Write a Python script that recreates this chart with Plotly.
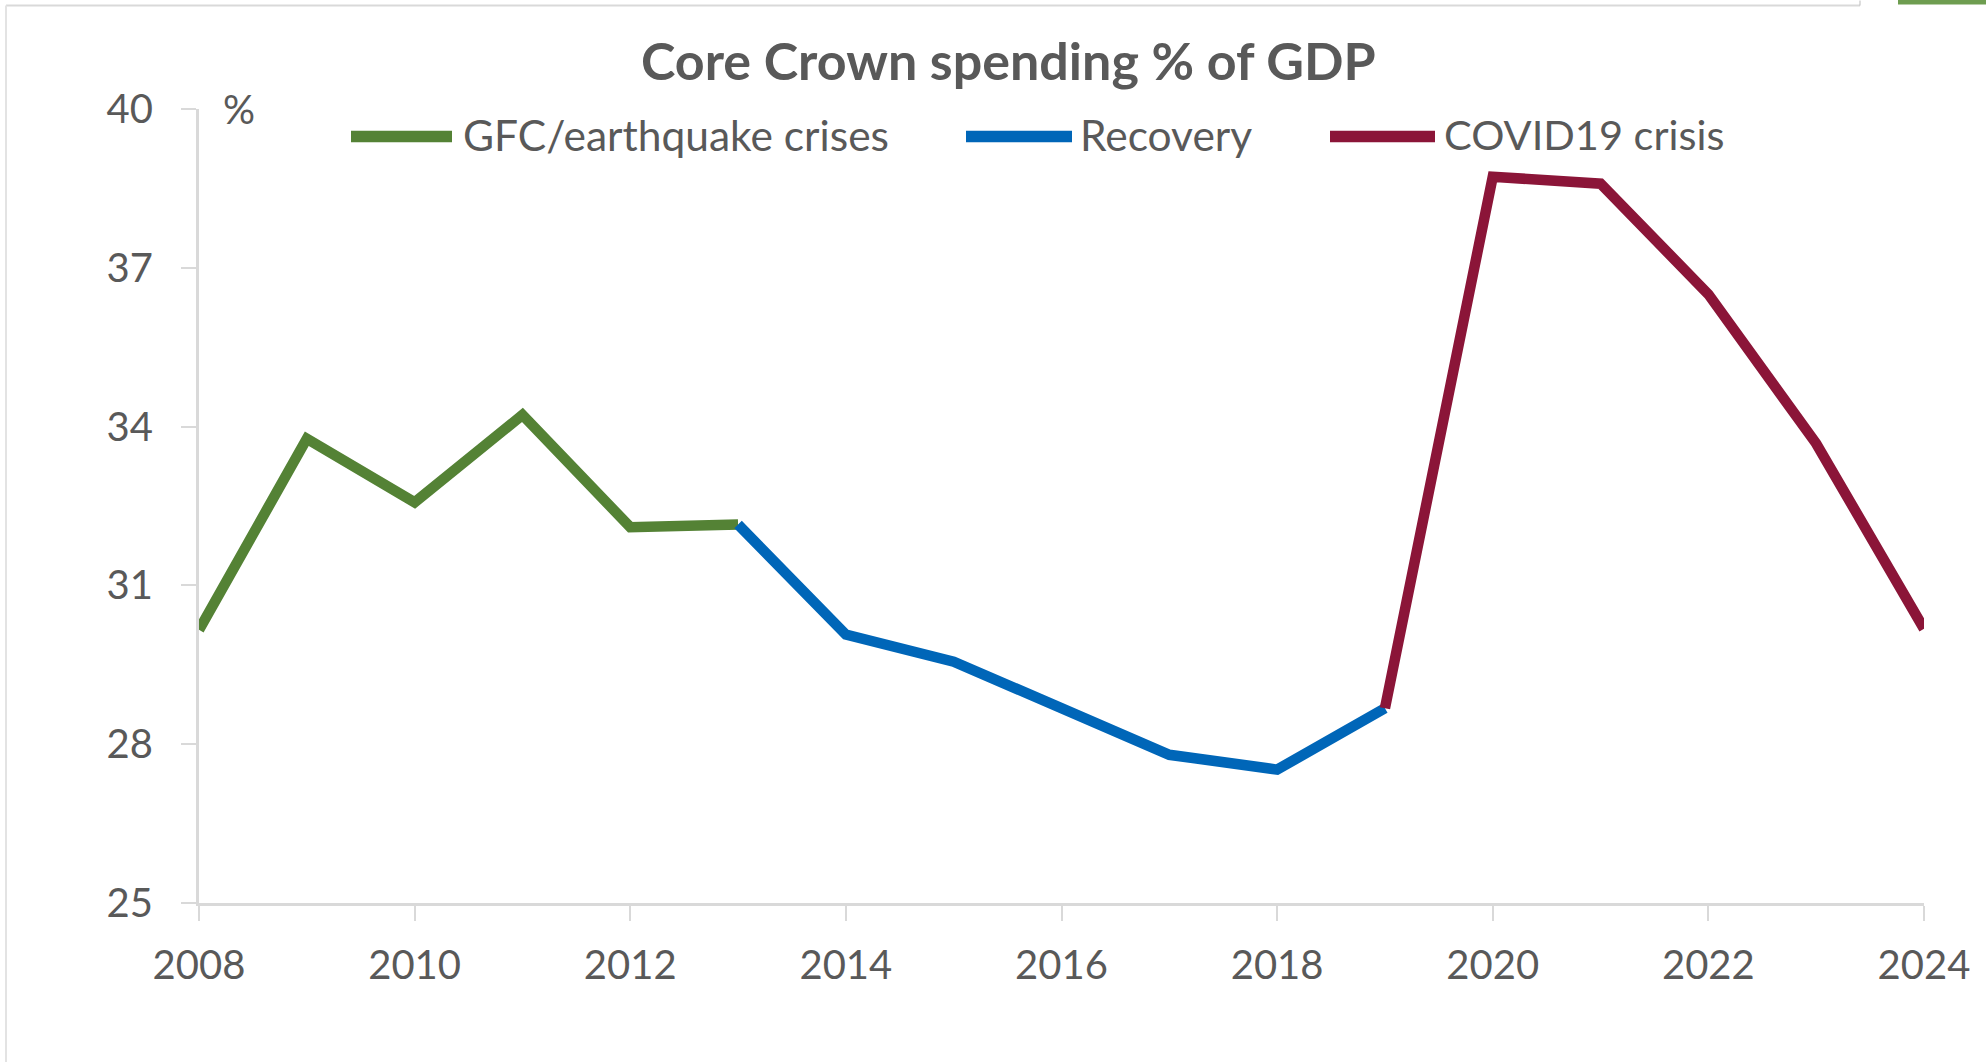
import plotly.graph_objects as go

# ---------------- data ----------------
years_gfc = [2008, 2009, 2010, 2011, 2012, 2013]
vals_gfc = [30.16, 33.77, 32.57, 34.22, 32.10, 32.15]

years_rec = [2013, 2014, 2015, 2016, 2017, 2018, 2019]
vals_rec = [32.15, 30.07, 29.56, 28.68, 27.80, 27.52, 28.68]

years_cov = [2019, 2020, 2021, 2022, 2023, 2024]
vals_cov = [28.68, 38.72, 38.59, 36.50, 33.68, 30.18]

series_names = ["GFC/earthquake crises", "Recovery", "COVID19 crisis"]
series_colors = ["#548235", "#0066B8", "#8B1538"]

y_ticks = [25, 28, 31, 34, 37, 40]
x_ticks = [2008, 2010, 2012, 2014, 2016, 2018, 2020, 2022, 2024]

title_text = "Core Crown spending % of GDP"
unit_text = "%"

# ---------------- layout geometry (pixels) ----------------
W, H = 1986, 1062
L, R, T, B = 199, 1924, 108.5, 903   # plot area edges in px
FONT = "Lato"
GREY = "#595959"
AXIS = "#D9D9D9"


def px(xp):
    return (xp - L) / (R - L)


def py(yp):
    return (B - yp) / (B - T)


fig = go.Figure()
for xs, ys, name, col in zip([years_gfc, years_rec, years_cov],
                             [vals_gfc, vals_rec, vals_cov],
                             series_names, series_colors):
    fig.add_trace(go.Scatter(x=xs, y=ys, mode="lines", name=name,
                             line=dict(color=col, width=10.5),
                             showlegend=False, hoverinfo="x+y"))

shapes = []
annotations = []

# legend (drawn manually to match the long line samples)
legend_items = [(351, 452, 461), (966, 1072, 1078), (1330, 1435, 1442)]
legend_sizes = [42.5, 42.5, 41.5]
legend_y = 136
for (x0, x1, tx), name, col, fs in zip(legend_items, series_names, series_colors, legend_sizes):
    shapes.append(dict(type="line", xref="paper", yref="paper",
                       x0=px(x0), x1=px(x1), y0=py(legend_y), y1=py(legend_y),
                       line=dict(color=col, width=11.5)))
    annotations.append(dict(text=name, xref="paper", yref="paper",
                            x=px(tx), y=py(legend_y - 2), xanchor="left", yanchor="middle",
                            showarrow=False, font=dict(family=FONT, size=fs, color=GREY)))

# title
annotations.append(dict(text="<b>" + title_text + "</b>", xref="paper", yref="paper",
                        x=px(1008), y=py(59), xanchor="center", yanchor="middle",
                        showarrow=False, font=dict(family=FONT, size=52, color=GREY)))
# unit label
annotations.append(dict(text=unit_text, xref="paper", yref="paper",
                        x=px(239), y=py(109), xanchor="center", yanchor="middle",
                        showarrow=False, font=dict(family=FONT, size=40, color=GREY)))

# outer chart border / screenshot edges
shapes.append(dict(type="line", xref="paper", yref="paper",
                   x0=px(6), x1=px(1860), y0=py(5), y1=py(5),
                   line=dict(color="#D9D9D9", width=2)))
shapes.append(dict(type="line", xref="paper", yref="paper",
                   x0=px(6), x1=px(6), y0=py(5), y1=py(1062),
                   line=dict(color="#E3E3E3", width=2)))
shapes.append(dict(type="line", xref="paper", yref="paper",
                   x0=px(1860), x1=px(1860), y0=py(0), y1=py(5),
                   line=dict(color="#BBBBBB", width=1)))
shapes.append(dict(type="rect", xref="paper", yref="paper",
                   x0=px(1898), x1=px(1990), y0=py(-2), y1=py(4),
                   line=dict(width=0), fillcolor="#6E9D50"))

fig.update_layout(
    width=W, height=H,
    margin=dict(l=L, r=W - R, t=T, b=H - B, pad=0),
    paper_bgcolor="white", plot_bgcolor="white",
    showlegend=False,
    shapes=shapes, annotations=annotations,
    font=dict(family=FONT, color=GREY),
)
fig.update_xaxes(range=[2008, 2024], tickvals=x_ticks, ticktext=[str(v) for v in x_ticks],
                 showgrid=False, zeroline=False, showline=True, linecolor=AXIS, linewidth=3,
                 ticks="outside", ticklen=15, tickwidth=2, tickcolor=AXIS,
                 tickfont=dict(family=FONT, size=40, color=GREY), ticklabelstandoff=10)
fig.update_yaxes(range=[25, 40], tickvals=y_ticks, ticktext=[str(v) for v in y_ticks],
                 showgrid=False, zeroline=False, showline=True, linecolor=AXIS, linewidth=3,
                 ticks="outside", ticklen=15, tickwidth=2, tickcolor=AXIS,
                 tickfont=dict(family=FONT, size=40, color=GREY), ticklabelstandoff=20)

fig.write_html("out.html")
